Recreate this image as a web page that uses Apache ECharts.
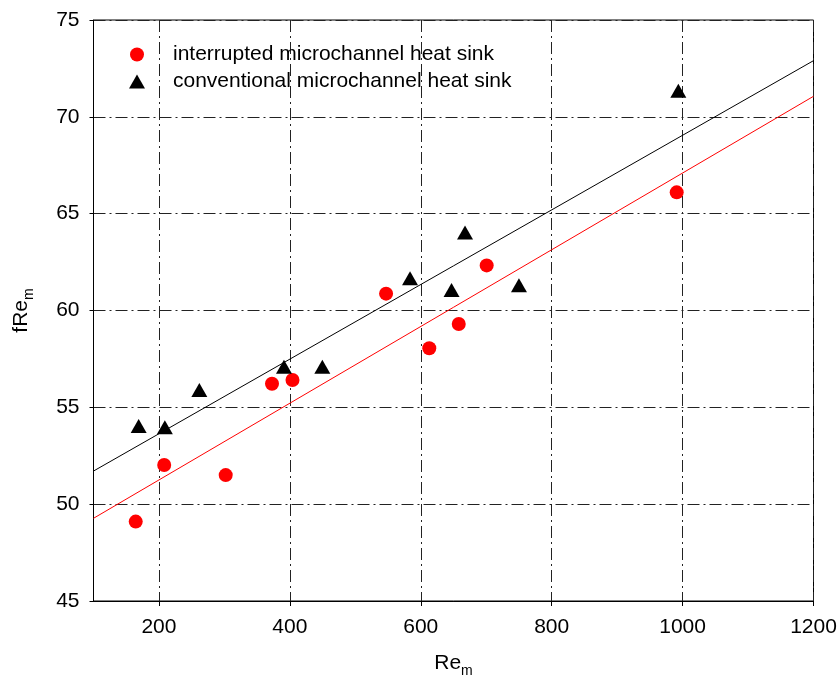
<!DOCTYPE html>
<html>
<head>
<meta charset="utf-8">
<script src="https://cdn.jsdelivr.net/npm/echarts@6/dist/echarts.min.js"></script>
<style>html,body{margin:0;padding:0;background:#fff}#c{width:839px;height:676px}</style>
</head>
<body>
<div id="c"></div>
<script>
// Data
var interruptedRe  = [164.5, 208, 302, 372.7, 404, 547, 613, 658, 700.7, 991];
var interruptedF   = [49.1, 52.02, 51.5, 56.22, 56.41, 60.87, 58.05, 59.3, 62.33, 66.1];
var conventionalRe = [169, 209, 261.7, 391, 449.6, 583.6, 647, 667.6, 750, 993.5];
var conventionalF  = [54.03, 53.97, 55.9, 57.1, 57.1, 61.66, 61.06, 64.03, 61.31, 71.35];
var fitRe          = [100, 1200];
var interruptedFit = [49.27, 71.06];
var conventionalFit= [51.71, 72.9];
var xTicks = [200, 400, 600, 800, 1000, 1200];
var yTicks = [45, 50, 55, 60, 65, 70, 75];
var seriesNames = ['interrupted microchannel heat sink', 'conventional microchannel heat sink'];

function pairs(xs, ys){ return xs.map(function(x,i){ return [x, ys[i]]; }); }

var FONT = 'Liberation Sans, Arial, sans-serif';
var gridDash = [12, 4, 2, 4];
var nameRich = {
  b: {fontSize: 21, fontFamily: FONT, color: '#000'},
  s: {fontSize: 14, fontFamily: FONT, color: '#000', verticalAlign: 'bottom', padding: [16,0,0,0]}
};

var chart = echarts.init(document.getElementById('c'), null, {renderer:'canvas'});
chart.setOption({
  backgroundColor: '#fff',
  animation: false,
  textStyle: {fontFamily: FONT, color: '#000'},
  grid: {left: 93.5, right: 25.5, top: 20, bottom: 75, show: true, borderColor: '#000', borderWidth: 1,
         containLabel: false, outerBoundsMode: 'none'},
  legend: {
    left: 124, top: 39, orient: 'vertical', itemGap: 6, itemWidth: 16, itemHeight: 14,
    data: [
      {name: seriesNames[0], icon: 'circle'},
      {name: seriesNames[1], icon: 'triangle'}
    ],
    textStyle: {fontFamily: FONT, fontSize: 21, color: '#000', padding: [0,0,0,23]}
  },
  xAxis: {
    type: 'value', min: 100, max: 1200,
    name: '{b|Re}{s|m}', nameLocation: 'middle', nameGap: 47,
    nameTextStyle: {rich: nameRich},
    axisLine: {show: true, onZero: false, lineStyle: {color: '#000', width: 1}},
    axisTick: {show: true, inside: false, length: 5, lineStyle: {color: '#000'}, customValues: xTicks},
    axisLabel: {fontSize: 21, fontFamily: FONT, color: '#000', margin: 16, customValues: xTicks,
                formatter: function(v){ return String(v); }},
    splitLine: {show: true, lineStyle: {color: '#222', width: 1, type: gridDash}}
  },
  yAxis: {
    type: 'value', min: 45, max: 75, interval: 5,
    name: '{b|fRe}{s|m}', nameLocation: 'middle', nameGap: 57, nameRotate: 90,
    nameTextStyle: {rich: nameRich},
    axisLine: {show: true, onZero: false, lineStyle: {color: '#000', width: 1}},
    axisTick: {show: true, inside: false, length: 4, lineStyle: {color: '#000'}},
    axisLabel: {fontSize: 21, fontFamily: FONT, color: '#000', margin: 14,
                formatter: function(v){ return String(v); }},
    splitLine: {show: true, lineStyle: {color: '#222', width: 1, type: gridDash}}
  },
  series: [
    {name: 'fitConv', type: 'line', data: pairs(fitRe, conventionalFit), showSymbol: false, symbol: 'none',
     lineStyle: {color: '#000', width: 1}, itemStyle: {color: '#000'}, z: 3, silent: true},
    {name: 'fitInt', type: 'line', data: pairs(fitRe, interruptedFit), showSymbol: false, symbol: 'none',
     lineStyle: {color: '#ff0000', width: 1}, itemStyle: {color: '#ff0000'}, z: 3, silent: true},
    {name: seriesNames[0], type: 'scatter', data: pairs(interruptedRe, interruptedF), symbol: 'circle', symbolSize: 14,
     itemStyle: {color: '#ff0000', opacity: 1}, z: 5},
    {name: seriesNames[1], type: 'scatter', data: pairs(conventionalRe, conventionalF), symbol: 'triangle', symbolSize: [16, 14],
     itemStyle: {color: '#000', opacity: 1}, z: 5}
  ]
});
</script>
</body>
</html>
